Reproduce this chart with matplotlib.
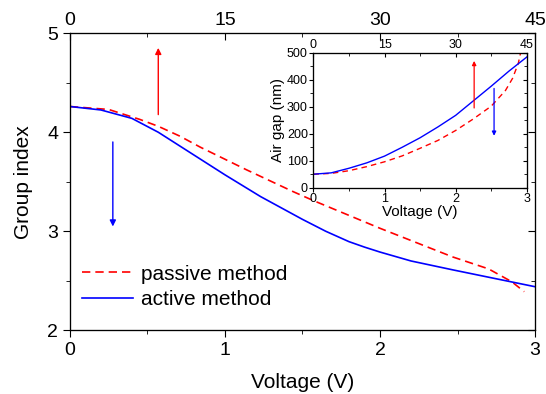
import matplotlib
matplotlib.use("Agg")
import matplotlib.pyplot as plt
from matplotlib.ticker import MultipleLocator

plt.rcParams['font.family'] = ['Liberation Sans', 'DejaVu Sans']

# main plot: group index vs voltage
v_passive = [0, 0.25, 0.45, 0.57, 0.71, 0.84, 1.14, 1.44, 1.57, 2.0, 2.47, 2.70, 2.85, 2.93]
n_passive = [4.26, 4.23, 4.13, 4.06, 3.96, 3.85, 3.62, 3.40, 3.31, 3.03, 2.74, 2.62, 2.49, 2.39]
v_active = [0, 0.2, 0.4, 0.57, 0.71, 1.0, 1.23, 1.5, 1.65, 1.8, 1.9, 2.0, 2.2, 2.47, 2.75, 3.0]
n_active = [4.26, 4.225, 4.14, 4.0, 3.86, 3.57, 3.35, 3.12, 3.0, 2.895, 2.84, 2.79, 2.70, 2.61, 2.52, 2.44]

# inset: air gap vs voltage
v_gap = [0, 0.25, 0.5, 0.75, 1.0, 1.25, 1.5, 1.75, 2.0, 2.25, 2.5, 2.75, 3.0]
gap_active = [50, 55, 72, 92, 117, 150, 185, 225, 268, 322, 376, 432, 484]
v_gap_p = [0, 0.25, 0.5, 0.75, 1.0, 1.25, 1.5, 1.75, 2.0, 2.25, 2.5, 2.7, 2.8, 2.88, 2.93]
gap_passive = [50, 53, 63, 78, 96, 118, 146, 175, 212, 255, 302, 360, 405, 460, 520]

labels = ["passive method", "active method"]


def inner_right(a, ylim, major, minor, big, small):
    # right spine ticks point inwards, left ones outwards
    r = a.twinx()
    r.set_ylim(*ylim)
    r.yaxis.set_major_locator(MultipleLocator(major))
    r.yaxis.set_minor_locator(MultipleLocator(minor))
    r.tick_params(which='both', direction='in', labelright=False)
    r.tick_params(which='major', length=big)
    r.tick_params(which='minor', length=small)
    return r


def inner_top(a, major, minor, big, small, size):
    t = a.twiny()
    t.set_xlim(0, 45)
    t.xaxis.set_major_locator(MultipleLocator(major))
    t.xaxis.set_minor_locator(MultipleLocator(minor))
    t.tick_params(which='both', direction='in', labelsize=size, pad=1 if size < 12 else 3)
    t.tick_params(which='major', length=big)
    t.tick_params(which='minor', length=small)
    return t


fig = plt.figure(figsize=(5.46, 3.94), dpi=100)
ax = fig.add_axes([0.128, 0.1617, 0.852, 0.754])
ax.plot(v_passive, n_passive, color='red', ls='--', dashes=(5, 3), lw=1.2, label=labels[0])
ax.plot(v_active, n_active, color='blue', lw=1.2, label=labels[1])
ax.set_xlim(0, 3)
ax.set_ylim(2, 5)
ax.xaxis.set_major_locator(MultipleLocator(1))
ax.xaxis.set_minor_locator(MultipleLocator(0.5))
ax.yaxis.set_major_locator(MultipleLocator(1))
ax.yaxis.set_minor_locator(MultipleLocator(0.5))
ax.tick_params(which='both', direction='out', labelsize=14)
ax.tick_params(which='major', length=5)
ax.tick_params(which='minor', length=3)
ax.set_xlabel("Voltage (V)", fontsize=15, labelpad=10)
ax.set_ylabel("Group index", fontsize=15, labelpad=10)
ax.legend(loc='lower left', bbox_to_anchor=(0.0, 0.03), frameon=False, fontsize=15,
          handlelength=2.45, handletextpad=0.35, labelspacing=0.3, borderaxespad=0.2)

# arrows
ax.annotate('', xy=(0.57, 4.88), xytext=(0.57, 4.15),
            arrowprops=dict(arrowstyle='-|>', color='red', lw=1.0, mutation_scale=9))
ax.annotate('', xy=(0.277, 3.02), xytext=(0.277, 3.93),
            arrowprops=dict(arrowstyle='-|>', color='blue', lw=1.0, mutation_scale=9))

inner_top(ax, 15, 7.5, 5, 3, 14)
inner_right(ax, (2, 5), 1, 0.5, 5, 3)

# inset
ins = fig.add_axes([0.574, 0.5236, 0.3908, 0.3426])
ins.plot(v_gap_p, gap_passive, color='red', ls='--', dashes=(4, 3), lw=1.0)
ins.plot(v_gap, gap_active, color='blue', lw=1.0)
ins.set_xlim(0, 3)
ins.set_ylim(0, 500)
ins.xaxis.set_major_locator(MultipleLocator(1))
ins.xaxis.set_minor_locator(MultipleLocator(0.5))
ins.yaxis.set_major_locator(MultipleLocator(100))
ins.yaxis.set_minor_locator(MultipleLocator(50))
ins.tick_params(which='both', direction='out', labelsize=9, pad=1)
ins.tick_params(which='major', length=3)
ins.tick_params(which='minor', length=2)
ins.set_xlabel("Voltage (V)", fontsize=11, labelpad=0)
ins.set_ylabel("Air gap (nm)", fontsize=11, labelpad=1)
ins.annotate('', xy=(2.26, 480), xytext=(2.26, 285),
             arrowprops=dict(arrowstyle='-|>', color='red', lw=0.9, mutation_scale=6))
ins.annotate('', xy=(2.54, 182), xytext=(2.54, 378),
             arrowprops=dict(arrowstyle='-|>', color='blue', lw=0.9, mutation_scale=6))

inner_top(ins, 15, 7.5, 3, 2, 9)
inner_right(ins, (0, 500), 100, 50, 3, 2)

fig.savefig("out.png", dpi=100)
